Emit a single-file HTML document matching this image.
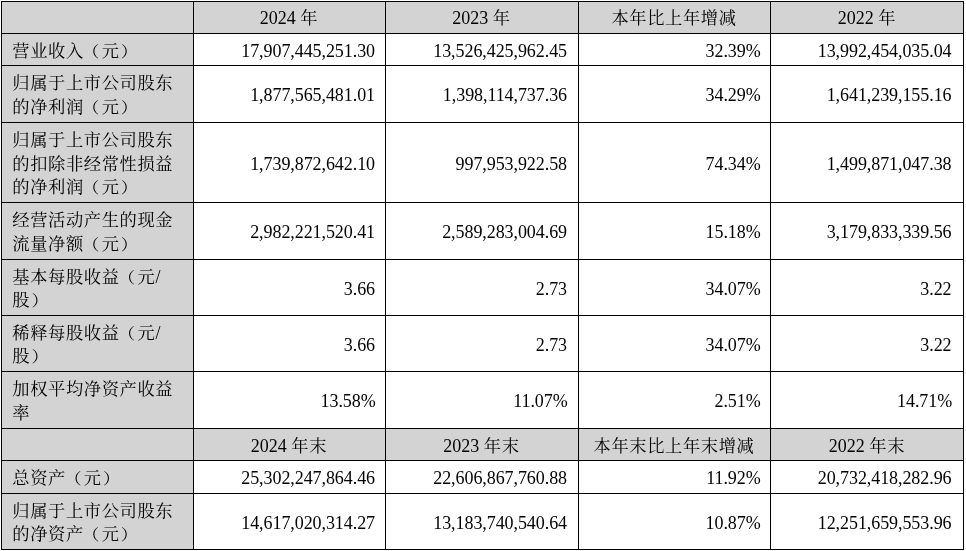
<!DOCTYPE html>
<html lang="zh-CN">
<head>
<meta charset="utf-8">
<title>主要会计数据和财务指标</title>
<style>
html,body{margin:0;padding:0;background:#fff;}
body{width:966px;height:551px;overflow:hidden;position:relative;font-family:"Liberation Serif","Noto Serif CJK SC",serif;font-size:18px;line-height:24px;color:#000;letter-spacing:0px;}
.g{position:absolute;background:#d3d3d3;}
.v,.h{position:absolute;background:#000;}
.c{position:absolute;white-space:nowrap;height:24px;}
.l{text-align:left;}
.r{text-align:right;letter-spacing:-0.075px;}
.m{text-align:center;}
.z,.zc,.hz{display:inline-block;font-size:17.3px;letter-spacing:0.6px;color:#000;font-weight:400;}
.z{transform-origin:0 50%;transform:translateY(0.5px) scale(1,0.965);}
.zc{transform-origin:50% 50%;transform:translateY(0.5px) scale(1,0.965);}
.hz{transform-origin:0 50%;transform:translateY(0.5px) scale(1,0.965);}
.lab{position:absolute;left:12.3px;width:172px;}
.lab .c{left:0;display:block;}
.pl,.pr{display:inline-block;transform-origin:50% 55%;}
.pl{transform:translateX(-1.8px) scaleY(0.92);}
.pr{transform:translateX(1.2px) scaleY(0.92);}
</style>
</head>
<body>
<div class="g" style="left:1px;top:1px;width:962px;height:32px"></div>
<div class="g" style="left:1px;top:33px;width:192px;height:32px"></div>
<div class="g" style="left:1px;top:65px;width:192px;height:57px"></div>
<div class="g" style="left:1px;top:122px;width:192px;height:80px"></div>
<div class="g" style="left:1px;top:202px;width:192px;height:57px"></div>
<div class="g" style="left:1px;top:259px;width:192px;height:56px"></div>
<div class="g" style="left:1px;top:315px;width:192px;height:56px"></div>
<div class="g" style="left:1px;top:371px;width:192px;height:57px"></div>
<div class="g" style="left:1px;top:428px;width:962px;height:32px"></div>
<div class="g" style="left:1px;top:460px;width:192px;height:33px"></div>
<div class="g" style="left:1px;top:493px;width:192px;height:56px"></div>
<div class="h" style="left:1px;top:1px;width:963px;height:1px"></div>
<div class="h" style="left:1px;top:33px;width:963px;height:1px"></div>
<div class="h" style="left:1px;top:65px;width:963px;height:1px"></div>
<div class="h" style="left:1px;top:122px;width:963px;height:1px"></div>
<div class="h" style="left:1px;top:202px;width:963px;height:1px"></div>
<div class="h" style="left:1px;top:259px;width:963px;height:1px"></div>
<div class="h" style="left:1px;top:315px;width:963px;height:1px"></div>
<div class="h" style="left:1px;top:371px;width:963px;height:1px"></div>
<div class="h" style="left:1px;top:428px;width:963px;height:1px"></div>
<div class="h" style="left:1px;top:460px;width:963px;height:1px"></div>
<div class="h" style="left:1px;top:493px;width:963px;height:1px"></div>
<div class="h" style="left:1px;top:549px;width:963px;height:1px"></div>
<div class="v" style="left:1px;top:1px;width:1px;height:549px"></div>
<div class="v" style="left:193px;top:1px;width:1px;height:549px"></div>
<div class="v" style="left:385px;top:1px;width:1px;height:549px"></div>
<div class="v" style="left:578px;top:1px;width:1px;height:549px"></div>
<div class="v" style="left:770px;top:1px;width:1px;height:549px"></div>
<div class="v" style="left:963px;top:1px;width:1px;height:549px"></div>
<div class="c m" style="left:193px;width:192px;top:5.5px">2024 <span class="hz">年</span></div>
<div class="c m" style="left:385px;width:193px;top:5.5px">2023 <span class="hz">年</span></div>
<div class="c m" style="left:578px;width:192px;top:5.5px"><span class="zc">本年比上年增减</span></div>
<div class="c m" style="left:770.5px;width:193px;top:5.5px">2022 <span class="hz">年</span></div>
<div class="lab" style="top:33px"><span class="c l" style="top:5.5px"><span class="z">营业收入<span class="pl">（</span>元<span class="pr">）</span></span></span></div>
<div class="c r" style="left:194px;width:181px;top:38.5px">17,907,445,251.30</div>
<div class="c r" style="left:386px;width:181px;top:38.5px">13,526,425,962.45</div>
<div class="c r" style="left:579px;width:181.6px;top:38.5px">32.39%</div>
<div class="c r" style="left:771px;width:180.5px;top:38.5px">13,992,454,035.04</div>
<div class="lab" style="top:65px"><span class="c l" style="top:6.05px"><span class="z">归属于上市公司股东</span></span><span class="c l" style="top:29.95px"><span class="z">的净利润<span class="pl">（</span>元<span class="pr">）</span></span></span></div>
<div class="c r" style="left:194px;width:181px;top:83px">1,877,565,481.01</div>
<div class="c r" style="left:386px;width:181px;top:83px">1,398,114,737.36</div>
<div class="c r" style="left:579px;width:181.6px;top:83px">34.29%</div>
<div class="c r" style="left:771px;width:180.5px;top:83px">1,641,239,155.16</div>
<div class="lab" style="top:122px"><span class="c l" style="top:5.6px"><span class="z">归属于上市公司股东</span></span><span class="c l" style="top:29.5px"><span class="z">的扣除非经常性损益</span></span><span class="c l" style="top:53.4px"><span class="z">的净利润<span class="pl">（</span>元<span class="pr">）</span></span></span></div>
<div class="c r" style="left:194px;width:181px;top:151.5px">1,739,872,642.10</div>
<div class="c r" style="left:386px;width:181px;top:151.5px">997,953,922.58</div>
<div class="c r" style="left:579px;width:181.6px;top:151.5px">74.34%</div>
<div class="c r" style="left:771px;width:180.5px;top:151.5px">1,499,871,047.38</div>
<div class="lab" style="top:202px"><span class="c l" style="top:6.05px"><span class="z">经营活动产生的现金</span></span><span class="c l" style="top:29.95px"><span class="z">流量净额<span class="pl">（</span>元<span class="pr">）</span></span></span></div>
<div class="c r" style="left:194px;width:181px;top:220px">2,982,221,520.41</div>
<div class="c r" style="left:386px;width:181px;top:220px">2,589,283,004.69</div>
<div class="c r" style="left:579px;width:181.6px;top:220px">15.18%</div>
<div class="c r" style="left:771px;width:180.5px;top:220px">3,179,833,339.56</div>
<div class="lab" style="top:259px"><span class="c l" style="top:5.55px"><span class="z">基本每股收益<span class="pl">（</span>元</span>/</span><span class="c l" style="top:29.45px"><span class="z">股<span class="pr">）</span></span></span></div>
<div class="c r" style="left:194px;width:181px;top:276.5px">3.66</div>
<div class="c r" style="left:386px;width:181px;top:276.5px">2.73</div>
<div class="c r" style="left:579px;width:181.6px;top:276.5px">34.07%</div>
<div class="c r" style="left:771px;width:180.5px;top:276.5px">3.22</div>
<div class="lab" style="top:315px"><span class="c l" style="top:5.55px"><span class="z">稀释每股收益<span class="pl">（</span>元</span>/</span><span class="c l" style="top:29.45px"><span class="z">股<span class="pr">）</span></span></span></div>
<div class="c r" style="left:194px;width:181px;top:332.5px">3.66</div>
<div class="c r" style="left:386px;width:181px;top:332.5px">2.73</div>
<div class="c r" style="left:579px;width:181.6px;top:332.5px">34.07%</div>
<div class="c r" style="left:771px;width:180.5px;top:332.5px">3.22</div>
<div class="lab" style="top:371px"><span class="c l" style="top:6.05px"><span class="z">加权平均净资产收益</span></span><span class="c l" style="top:29.95px"><span class="z">率</span></span></div>
<div class="c r" style="left:194px;width:181.6px;top:389px">13.58%</div>
<div class="c r" style="left:386px;width:181.6px;top:389px">11.07%</div>
<div class="c r" style="left:579px;width:181.6px;top:389px">2.51%</div>
<div class="c r" style="left:771px;width:181.1px;top:389px">14.71%</div>
<div class="c m" style="left:193px;width:192px;top:433.5px">2024 <span class="hz">年末</span></div>
<div class="c m" style="left:385px;width:193px;top:433.5px">2023 <span class="hz">年末</span></div>
<div class="c m" style="left:578px;width:192px;top:433.5px"><span class="zc">本年末比上年末增减</span></div>
<div class="c m" style="left:770.5px;width:193px;top:433.5px">2022 <span class="hz">年末</span></div>
<div class="lab" style="top:460px"><span class="c l" style="top:6px"><span class="z">总资产<span class="pl">（</span>元<span class="pr">）</span></span></span></div>
<div class="c r" style="left:194px;width:181px;top:466px">25,302,247,864.46</div>
<div class="c r" style="left:386px;width:181px;top:466px">22,606,867,760.88</div>
<div class="c r" style="left:579px;width:181.6px;top:466px">11.92%</div>
<div class="c r" style="left:771px;width:180.5px;top:466px">20,732,418,282.96</div>
<div class="lab" style="top:493px"><span class="c l" style="top:5.55px"><span class="z">归属于上市公司股东</span></span><span class="c l" style="top:29.45px"><span class="z">的净资产<span class="pl">（</span>元<span class="pr">）</span></span></span></div>
<div class="c r" style="left:194px;width:181px;top:510.5px">14,617,020,314.27</div>
<div class="c r" style="left:386px;width:181px;top:510.5px">13,183,740,540.64</div>
<div class="c r" style="left:579px;width:181.6px;top:510.5px">10.87%</div>
<div class="c r" style="left:771px;width:180.5px;top:510.5px">12,251,659,553.96</div>
</body>
</html>
